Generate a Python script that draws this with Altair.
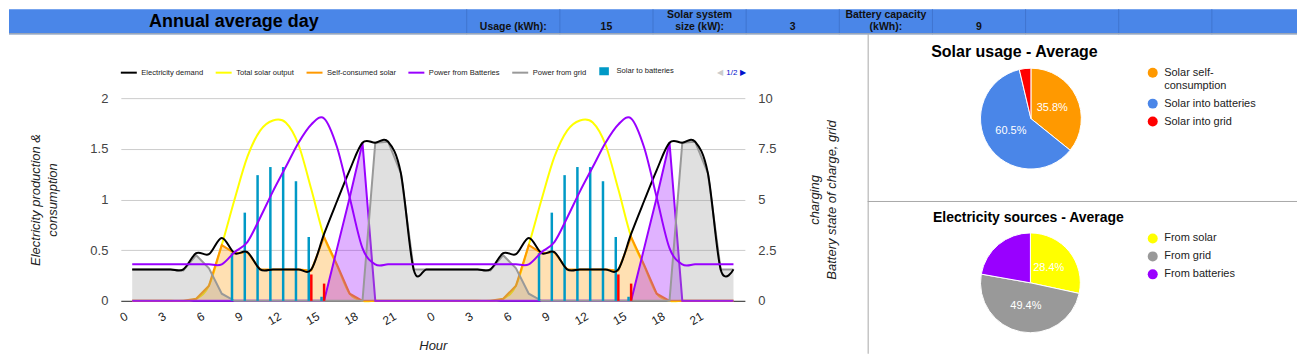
import altair as alt
import pandas as pd

FONT = "Liberation Sans"

# ---------------- header (spreadsheet-like row) ----------------
TITLE = "Annual average day"
HEADER_CELLS = ["Usage (kWh):", "15", "Solar system\nsize (kW):", "3", "Battery capacity\n(kWh):", "9"]
HEADER_CELL_COLS = [5, 6, 7, 8, 9, 10]
HEADER_DIVIDERS = [5, 6, 7, 8, 9, 10, 11, 12, 13]
N_COLS = 14

# ---------------- main chart data (one average day, shown twice) ----------------
HOURS = list(range(48))
HOUR_TICKS = [0, 3, 6, 9, 12, 15, 18, 21, 24, 27, 30, 33, 36, 39, 42, 45]

DEMAND_DAY = [0.31, 0.31, 0.31, 0.31, 0.31, 0.47, 0.46, 0.62, 0.47, 0.48, 0.31, 0.31,
              0.31, 0.31, 0.31, 0.66, 0.98, 1.29, 1.56, 1.56, 1.57, 1.26, 0.31, 0.31]
SOLAR_DAY = [0, 0, 0, 0, 0, 0.02, 0.15, 0.55, 1.0, 1.42, 1.68, 1.78,
             1.76, 1.54, 1.1, 0.63, 0.35, 0.07, 0, 0, 0, 0, 0, 0]
SELF_DAY = [0, 0, 0, 0, 0, 0.02, 0.15, 0.55, 0.47, 0.48, 0.31, 0.31,
            0.31, 0.31, 0.30, 0.63, 0.36, 0.07, 0, 0, 0, 0, 0, 0]
BATT_DAY = [0, 0, 0, 0, 0, 0, 0, 0, 0, 0, 0, 0,
            0, 0, 0, 0, 0.51, 1.02, 1.56, 0, 0, 0, 0, 0]
GRID_DAY = [0.31, 0.31, 0.31, 0.31, 0.30, 0.45, 0.32, 0.07, 0, 0, 0, 0,
            0, 0, 0, 0, 0, 0, 0, 1.56, 1.57, 1.26, 0.31, 0.31]
TO_BATT_DAY = [0, 0, 0, 0, 0, 0, 0, 0, 0.47, 0.87, 1.24, 1.32,
               1.32, 1.18, 0.63, 0.04, 0, 0, 0, 0, 0, 0, 0, 0]
TO_GRID_DAY = [0, 0, 0, 0, 0, 0, 0, 0, 0, 0, 0, 0,
               0, 0, 0.26, 0.17, 0, 0, 0, 0, 0, 0, 0, 0]
SOC_DAY = [1.8, 1.8, 1.8, 1.8, 1.8, 1.8, 1.8, 1.8, 2.4, 2.9, 4.1, 5.4,
           6.6, 7.8, 8.7, 9.0, 7.6, 5.1, 2.6, 1.8, 1.8, 1.8, 1.8, 1.8]

LEGEND_SERIES = ["Electricity demand", "Total solar output", "Self-consumed solar",
                 "Power from Batteries", "Power from grid", "Solar to batteries"]

C_DEMAND = "#000000"
C_SOLAR = "#ffff00"
C_SELF = "#ff9900"
C_BATT = "#9900ff"
C_GRID = "#999999"
C_TO_BATT = "#0099c6"
C_TO_GRID = "#ff0000"
LEGEND_COLORS = [C_DEMAND, C_SOLAR, C_SELF, C_BATT, C_GRID, C_TO_BATT]
BAR_SWATCH = "M-0.6,-0.375H0.6M-0.6,-0.125H0.6M-0.6,0.125H0.6M-0.6,0.375H0.6"
LEGEND_SHAPES = ["stroke", "stroke", "stroke", "stroke", "stroke", BAR_SWATCH]

# ---------------- pie data ----------------
USAGE_CATS = ["Solar self-consumption", "Solar into batteries", "Solar into grid"]
USAGE_PCT = [35.8, 60.5, 3.7]
USAGE_SHOWN = [True, True, False]
USAGE_COLORS = ["#ff9900", "#4a86e8", "#ff0000"]

SOURCE_CATS = ["From solar", "From grid", "From batteries"]
SOURCE_PCT = [28.4, 49.4, 22.2]
SOURCE_SHOWN = [True, True, False]
SOURCE_COLORS = ["#ffff00", "#999999", "#9900ff"]

BLUE = "#4a86e8"
SEP = "#a8a8a8"

# ================= header =================
col_w = 1306 / N_COLS
HX_SCALE = alt.Scale(domain=[8 / col_w, 1298 / col_w], nice=False, zero=False)

title_df = pd.DataFrame({"col": [2.5], "text": [TITLE]})
cells_df = pd.DataFrame({"col": [c + 0.5 for c in HEADER_CELL_COLS], "text": HEADER_CELLS})
div_df = pd.DataFrame({"edge": HEADER_DIVIDERS})
one = pd.DataFrame({"k": [0]})

h_div = alt.Chart(div_df).mark_rule(color="#3f74cf", strokeWidth=1).encode(
    x=alt.X("edge:Q", scale=HX_SCALE, axis=None))
h_border = alt.Chart(one).mark_rule(color="#9aa6b8", strokeWidth=1.5).encode(y=alt.value(24.5))
h_title = alt.Chart(title_df).mark_text(fontSize=18, fontWeight="bold", color="#000000",
                                        align="center", baseline="alphabetic").encode(
    x=alt.X("col:Q", scale=HX_SCALE, axis=None), y=alt.value(17.5), text="text:N")
cell_mark = dict(fontSize=10.5, fontWeight="bold", color="#111111", align="center",
                 baseline="alphabetic", lineBreak="\n", lineHeight=12)
h_cells_1 = alt.Chart(cells_df).transform_filter("indexof(datum.text, '\\n') < 0").mark_text(
    **cell_mark).encode(x=alt.X("col:Q", scale=HX_SCALE, axis=None), y=alt.value(20.5), text="text:N")
h_cells_2 = alt.Chart(cells_df).transform_filter("indexof(datum.text, '\\n') >= 0").mark_text(
    **cell_mark).encode(x=alt.X("col:Q", scale=HX_SCALE, axis=None), y=alt.value(8.5), text="text:N")

header = alt.layer(h_div, h_border, h_title, h_cells_1, h_cells_2).properties(
    width=1290, height=25, view=alt.ViewBackground(fill=BLUE, stroke=None))

# ================= main chart =================
df = pd.DataFrame({
    "hour": HOURS,
    "demand": DEMAND_DAY + DEMAND_DAY,
    "solar": SOLAR_DAY + SOLAR_DAY,
    "self": SELF_DAY + SELF_DAY,
    "batt": BATT_DAY + BATT_DAY,
    "grid": GRID_DAY + GRID_DAY,
    "to_batt": TO_BATT_DAY + TO_BATT_DAY,
    "to_grid": TO_GRID_DAY + TO_GRID_DAY,
    "soc": SOC_DAY + SOC_DAY,
})

X_SCALE = alt.Scale(domain=[-0.5, 47.5], range=[112, 737], nice=False, zero=False)
x_axis = alt.Axis(values=HOUR_TICKS, labelExpr="'' + (datum.value % 24)", labelAngle=-30,
                  labelAlign="right", labelBaseline="middle", labelPadding=14, labelFontSize=12,
                  labelOffset=-6,
                  labelColor="#222222", labelFlush=False, labelOverlap=False,
                  ticks=False, grid=False, domain=True, domainColor="#333333", domainWidth=1,
                  offset=-53, title="Hour", titleFontSize=13, titleFontStyle="italic",
                  titleFontWeight="normal", titleColor="#222222", titleY=45,
                  titleBaseline="middle")
YL_SCALE = alt.Scale(domain=[0, 2], range=[267, 64], nice=False, zero=False)
yl_axis = alt.Axis(values=[0, 0.5, 1, 1.5, 2], format=".1~f", grid=True, gridColor="#cccccc",
                   domain=False, ticks=False, labelPadding=13, labelFontSize=13,
                   labelColor="#444444",
                   offset=-112, title=["Electricity production &", "consumption"],
                   titleFontSize=13, titleFontStyle="italic", titleFontWeight="normal",
                   titleColor="#222222", titleAngle=-90, titleAlign="center",
                   titleBaseline="middle", titleX=-85, titleY=165.5, titleLineHeight=17)
YR_SCALE = alt.Scale(domain=[0, 10], range=[267, 64], nice=False, zero=False)
yr_axis = alt.Axis(orient="right", values=[0, 2.5, 5, 7.5, 10], format=".1~f", grid=False,
                   domain=False, ticks=False, labelPadding=13, labelFontSize=13,
                   labelColor="#444444",
                   offset=-123, title=["charging", "Battery state of charge, grid"],
                   titleFontSize=13, titleFontStyle="italic", titleFontWeight="normal",
                   titleColor="#222222", titleAngle=-90, titleAlign="center",
                   titleBaseline="middle", titleX=70, titleY=165.5, titleLineHeight=17)


def X(field="hour"):
    return alt.X(f"{field}:Q", scale=X_SCALE, axis=x_axis)


def YL(field):
    return alt.Y(f"{field}:Q", scale=YL_SCALE, axis=yl_axis)


base = alt.Chart(df)


def area_layers(field, color):
    fill = base.mark_area(color=color, opacity=0.3, interpolate="linear").encode(x=X(), y=YL(field))
    line = base.mark_line(color=color, strokeWidth=2, interpolate="linear").encode(x=X(), y=YL(field))
    return [fill, line]


bars_batt = base.transform_filter("datum.to_batt > 0").transform_calculate(
    xpos="datum.hour - 0.2").mark_bar(size=2.5, color=C_TO_BATT).encode(x=X("xpos"), y=YL("to_batt"))
bars_grid = base.transform_filter("datum.to_grid > 0").mark_bar(size=2.5, color=C_TO_GRID).encode(
    x=X(), y=YL("to_grid"))
line_demand = base.mark_line(color=C_DEMAND, strokeWidth=2, interpolate="cardinal").encode(
    x=X(), y=YL("demand"))
line_solar = base.mark_line(color=C_SOLAR, strokeWidth=2, interpolate="cardinal").encode(
    x=X(), y=YL("solar"))

left_group = alt.layer(line_solar, *area_layers("self", C_SELF), *area_layers("batt", C_BATT),
                       *area_layers("grid", C_GRID), bars_batt, bars_grid, line_demand)

soc_line = base.mark_line(color=C_BATT, strokeWidth=2, interpolate="cardinal").encode(
    x=X(), y=alt.Y("soc:Q", scale=YR_SCALE, axis=yr_axis))

legend_df = pd.DataFrame({"series": LEGEND_SERIES})
main_legend = alt.Legend(orient="none", legendX=111, legendY=28, direction="horizontal",
                         title=None, labelFontSize=7.6, labelColor="#222222", symbolSize=256,
                         symbolStrokeWidth=2, columnPadding=8, labelOffset=3.5, symbolOpacity=1)
legend_layer = alt.Chart(legend_df).transform_filter("false").mark_point(filled=False).encode(
    color=alt.Color("series:N", scale=alt.Scale(domain=LEGEND_SERIES, range=LEGEND_COLORS),
                    legend=main_legend),
    shape=alt.Shape("series:N", scale=alt.Scale(domain=LEGEND_SERIES, range=LEGEND_SHAPES),
                    legend=main_legend))

pager_prev = alt.Chart(one).mark_text(text="\u25c0", fontSize=8, color="#cccccc").encode(
    x=alt.value(712), y=alt.value(39))
pager_txt = alt.Chart(one).mark_text(text="1/2", fontSize=8, color="#0011cc").encode(
    x=alt.value(724), y=alt.value(39))
pager_next = alt.Chart(one).mark_text(text="\u25b6", fontSize=8, color="#0011cc").encode(
    x=alt.value(735), y=alt.value(39))

main = alt.layer(left_group, soc_line, legend_layer, pager_prev, pager_txt, pager_next).resolve_scale(
    y="independent").properties(width=860, height=320)


# ================= pies =================
def pie(cats, pct, shown, colors, title, title_size, height, cx, cy, r, tx, ty, lx, ly, top_rule):
    pdf = pd.DataFrame({"category": cats, "pct": pct, "idx": list(range(len(cats))),
                        "label": [f"{v:.1f}%" if s else "" for v, s in zip(pct, shown)]})
    legend = alt.Legend(orient="none", legendX=lx, legendY=ly, title=None, symbolType="circle",
                        symbolSize=100, symbolStrokeWidth=0, labelFontSize=11,
                        labelColor="#222222", labelOffset=6, rowPadding=6, symbolOpacity=1,
                        labelExpr="datum.label == 'Solar self-consumption' ? ['Solar self-', 'consumption'] : datum.label")
    pb = alt.Chart(pdf)
    arcs = pb.mark_arc(outerRadius=r, stroke="white", strokeWidth=1).encode(
        theta=alt.Theta("pct:Q", stack=True), order=alt.Order("idx:Q"),
        color=alt.Color("category:N", sort=cats, scale=alt.Scale(domain=cats, range=colors),
                        legend=legend),
        x=alt.value(cx), y=alt.value(cy))
    labels = pb.mark_text(radius=r * 0.47, color="white", fontSize=11).encode(
        theta=alt.Theta("pct:Q", stack=True), order=alt.Order("idx:Q"), detail="category:N",
        text="label:N", x=alt.value(cx), y=alt.value(cy))
    ttl = alt.Chart(pd.DataFrame({"t": [title]})).mark_text(
        fontSize=title_size, fontWeight="bold", color="#000000", align="center",
        baseline="alphabetic").encode(text="t:N", x=alt.value(tx), y=alt.value(ty))
    layers = [alt.Chart(one).mark_rule(color=SEP, strokeWidth=1).encode(x=alt.value(0.5))]
    if top_rule:
        layers.append(alt.Chart(one).mark_rule(color=SEP, strokeWidth=1).encode(y=alt.value(0.5)))
    layers += [arcs, labels, ttl]
    return alt.layer(*layers).properties(width=430, height=height)


pie1 = pie(USAGE_CATS, USAGE_PCT, USAGE_SHOWN, USAGE_COLORS, "Solar usage - Average", 16, 167,
           163.5, 84.5, 50.5, 147, 23, 280, 33, False)
pie2 = pie(SOURCE_CATS, SOURCE_PCT, SOURCE_SHOWN, SOURCE_COLORS, "Electricity sources - Average",
           14, 153, 163, 82, 50, 161, 21, 280, 32, True)

right = alt.vconcat(pie1, pie2, spacing=0, bounds="flush").resolve_scale(color="independent")
body = alt.hconcat(main, right, spacing=0, bounds="flush").resolve_scale(
    color="independent", shape="independent")
chart = alt.vconcat(header, body, spacing=0, bounds="flush").resolve_scale(
    color="independent", shape="independent").properties(
    padding=0, background="white").configure(font=FONT).configure_view(stroke=None)

chart.save("out.html", embed_options={"renderer": "svg", "actions": False})
